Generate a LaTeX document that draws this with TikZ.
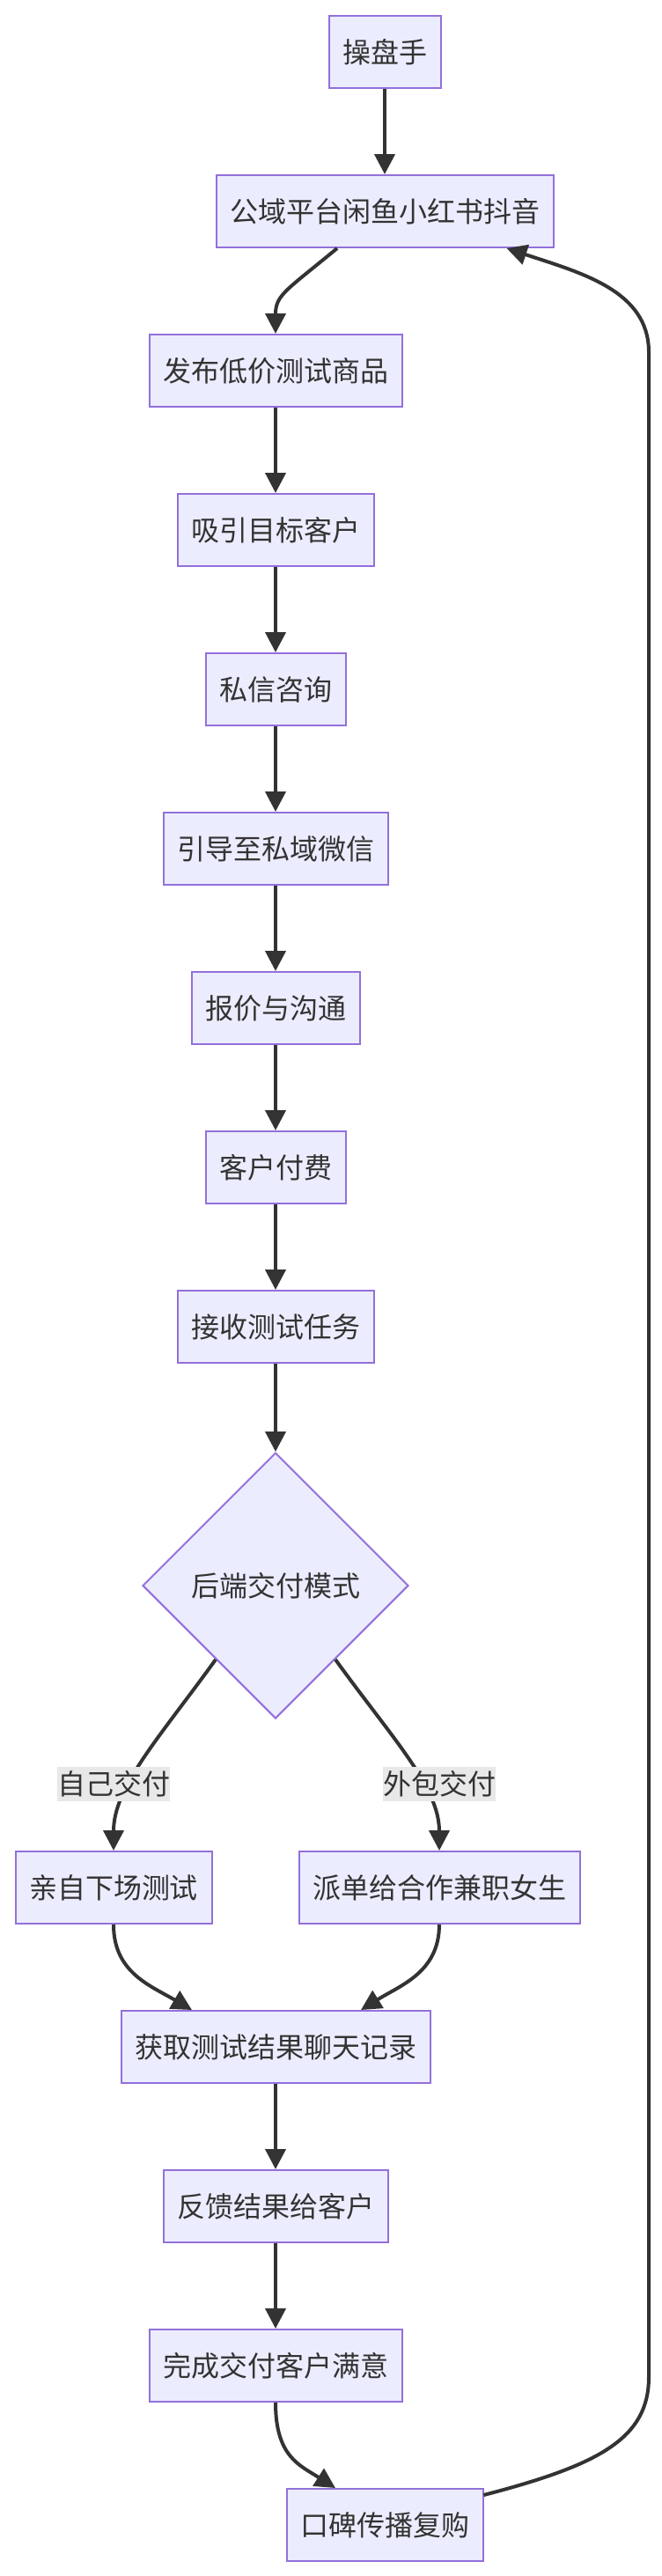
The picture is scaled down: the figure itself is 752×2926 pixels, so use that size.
\documentclass[tikz,border=0pt]{standalone}
\usepackage{fontspec}
\newfontfamily\cjk{Noto Sans CJK SC}
\usepackage{tikz}
\usetikzlibrary{shapes.geometric,arrows.meta,positioning}
\definecolor{mmdfill}{HTML}{ECECFF}
\definecolor{mmdline}{HTML}{9370DB}
\definecolor{mmdtext}{HTML}{333333}
\definecolor{mmdlabel}{HTML}{E8E8E8}
\tikzset{
  proc/.style={rectangle, draw=mmdline, fill=mmdfill, line width=2pt,
               minimum height=82pt, inner xsep=15.5pt, inner ysep=0pt,
               text=mmdtext, font=\cjk\fontsize{32}{38}\selectfont},
  decide/.style={diamond, draw=mmdline, fill=mmdfill, line width=2pt,
                 minimum width=302pt, minimum height=302pt, inner sep=0pt,
                 text=mmdtext, font=\cjk\fontsize{32}{38}\selectfont},
  elabel/.style={rectangle, fill=mmdlabel, inner sep=0pt, minimum height=39pt,
                 text=mmdtext, font=\cjk\fontsize{32}{38}\selectfont},
  flow/.style={-{Triangle[length=23pt,width=23pt]}, line width=4pt,
               draw=mmdtext},
}

\begin{document}
\begin{tikzpicture}[x=1pt,y=-1pt]
  \useasboundingbox (0,0) rectangle (752,2926);

  % Top
  \node[proc] (n1) at (437,59) {操盘手};
  \node[proc] (n2) at (437,240) {公域平台闲鱼小红书抖音};

  % Main column
  \foreach \name/\txt/\y in {n3/发布低价测试商品/421, n4/吸引目标客户/602,
      n5/私信咨询/783, n6/引导至私域微信/964, n7/报价与沟通/1145,
      n8/客户付费/1326, n9/接收测试任务/1507}
    \node[proc] (\name) at (313,\y) {\txt};
  \node[decide] (dec) at (313,1801) {后端交付模式};

  % Branches
  \node[proc] (n10) at (129,2144) {亲自下场测试};
  \node[proc] (n11) at (499,2144) {派单给合作兼职女生};

  % Bottom
  \node[proc] (n12) at (313,2325) {获取测试结果聊天记录};
  \node[proc] (n13) at (313,2506) {反馈结果给客户};
  \node[proc] (n14) at (313,2687) {完成交付客户满意};
  \node[proc] (n15) at (437,2868) {口碑传播复购};

  % Straight arrows
  \foreach \a/\b in {n1/n2, n3/n4, n4/n5, n5/n6, n6/n7, n7/n8, n8/n9,
      n9/dec, n12/n13, n13/n14}
    \draw[flow] (\a) -- (\b);

  % Curved arrows
  \draw[flow] ([xshift=-54pt]n2.south) .. controls (325,330) and (313,335) .. (n3.north);
  \draw[flow] ([xshift=8pt,yshift=-8pt]dec.south west) .. controls (180,1975) and (129,2030) .. (n10.north);
  \draw[flow] ([xshift=-8pt,yshift=-8pt]dec.south east) .. controls (446,1975) and (499,2030) .. (n11.north);
  \draw[flow] (n10.south) .. controls (129,2240) and (170,2255) .. ([xshift=-95pt]n12.north);
  \draw[flow] (n11.south) .. controls (499,2240) and (455,2255) .. ([xshift=97pt]n12.north);
  \draw[flow] (n14.south) .. controls (313,2790) and (340,2800) .. ([xshift=-56pt]n15.north);

  % Loop back
  \coordinate (loopbot) at (737,2700);
  \coordinate (looptop) at (737,400);
  \draw[flow] ([yshift=-8pt]n15.north east) .. controls (680,2800) and (737,2770) .. (loopbot)
    -- (looptop) .. controls (737,330) and (660,310) .. ([xshift=-54pt]n2.south east);

  % Edge labels
  \node[elabel] (l1) at (129,2026) {自己交付};
  \node[elabel] (l2) at (499,2026) {外包交付};
\end{tikzpicture}
\end{document}
